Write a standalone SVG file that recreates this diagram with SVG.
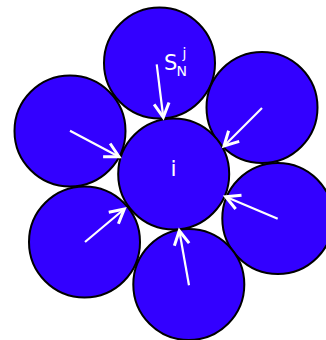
<svg xmlns="http://www.w3.org/2000/svg" width="326" height="340" viewBox="0 0 326 340">
<defs>
<style>
.c{fill:#3300ff;stroke:#000;stroke-width:2}
.a{stroke:#fff;stroke-width:2.2;fill:none;marker-end:url(#h)}
.t{fill:#fff;font-family:"DejaVu Sans",sans-serif}
</style>
<marker id="h" markerUnits="userSpaceOnUse" markerWidth="24" markerHeight="24" viewBox="-18 -12 24 24" refX="0" refY="0" orient="auto">
<path d="M-14,-7.5 L0,0 L-14,7.5" fill="none" stroke="#fff" stroke-width="3"/>
</marker>
</defs>
<g id="n-top"><circle class="c" cx="159.5" cy="63" r="55.5"/></g>
<g id="n-topright"><circle class="c" cx="262" cy="107.5" r="55.5"/></g>
<g id="n-right"><circle class="c" cx="277.8" cy="218.5" r="55.5"/></g>
<g id="n-bottom"><circle class="c" cx="188.8" cy="284.5" r="55.5"/></g>
<g id="n-bottomleft"><circle class="c" cx="84.5" cy="242" r="55.5"/></g>
<g id="n-left"><circle class="c" cx="70" cy="131" r="55.5"/></g>
<g id="n-center"><circle class="c" cx="173.7" cy="174" r="55.5"/>
<text class="t" x="173.5" y="176" font-size="22" text-anchor="middle">i</text></g>
<g id="label"><text class="t" x="164" y="70" font-size="21">S</text><text class="t" x="176.5" y="75.7" font-size="14">N</text><text class="t" x="182.5" y="58" font-size="14">j</text></g>
<g id="connectors">
<line class="a" x1="156.7" y1="64.3" x2="163.3" y2="117.3"/>
<line class="a" x1="262" y1="108" x2="224" y2="146"/>
<line class="a" x1="277.7" y1="218.7" x2="225.7" y2="196.7"/>
<line class="a" x1="189" y1="285.3" x2="179.3" y2="230.7"/>
<line class="a" x1="85" y1="242" x2="124.3" y2="209"/>
<line class="a" x1="70" y1="130.7" x2="119" y2="156.7"/>
</g>
</svg>
